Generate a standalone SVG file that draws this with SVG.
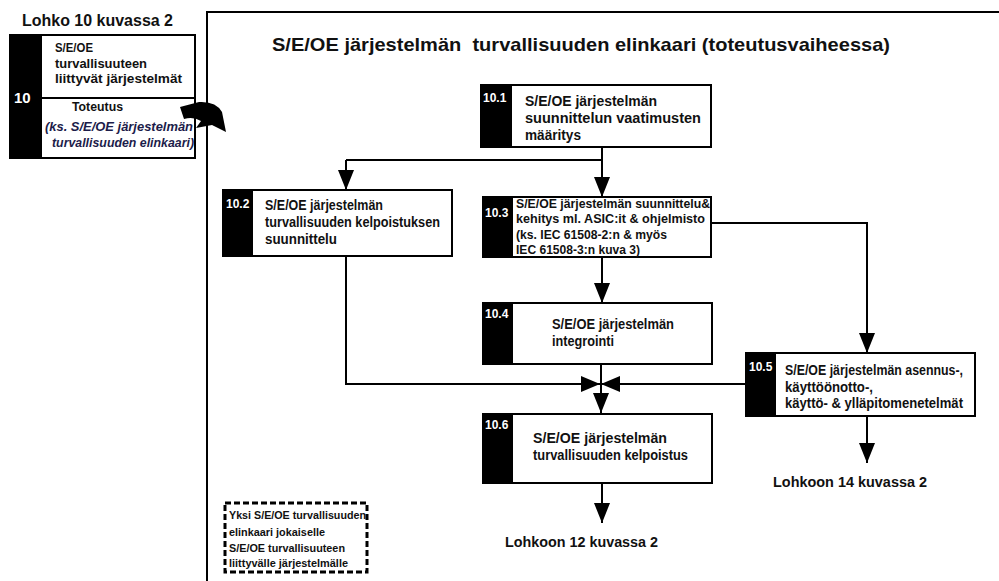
<svg xmlns="http://www.w3.org/2000/svg" width="999" height="581" viewBox="0 0 999 581">
<defs>
<style>
text{font-family:"Liberation Sans","DejaVu Sans",Arial,sans-serif;font-weight:bold;fill:#111;}
.t{font-size:14px;}
.s{font-size:12.5px;}
.n{font-size:12px;fill:#fff;}
.box{fill:#fff;stroke:#000;stroke-width:2;}
.strip{fill:#000;}
.ln{fill:none;stroke:#000;stroke-width:2;}
.it{font-style:italic;fill:#1c1c4a;font-size:12.5px;}
</style>
<marker id="ah" viewBox="0 0 20 16" refX="20" refY="8" markerWidth="20" markerHeight="16" markerUnits="userSpaceOnUse" orient="auto">
<path d="M0,0 L20,8 L0,16 Z" fill="#000"/>
</marker>
</defs>
<rect width="999" height="581" fill="#fff"/>

<!-- frame -->
<path class="ln" d="M207,581 L207,12 L999,12"/>

<text x="272" y="51" style="font-size:19px" xml:space="preserve" textLength="618" lengthAdjust="spacingAndGlyphs">S/E/OE järjestelmän  turvallisuuden elinkaari (toteutusvaiheessa)</text>

<!-- left block -->
<g id="lohko10">
<text x="22" y="26" style="font-size:16px" textLength="151" lengthAdjust="spacingAndGlyphs">Lohko 10 kuvassa 2</text>
<rect class="box" x="10" y="35" width="185" height="123"/>
<rect class="strip" x="10" y="35" width="32" height="123"/>
<line class="ln" x1="42" y1="98" x2="195" y2="98"/>
<text x="14" y="103" style="font-size:15px;fill:#fff">10</text>
<text class="s" x="55" y="52" textLength="38" lengthAdjust="spacingAndGlyphs">S/E/OE</text>
<text class="s" x="55" y="68" textLength="92" lengthAdjust="spacingAndGlyphs">turvallisuuteen</text>
<text class="s" x="55" y="83" textLength="127" lengthAdjust="spacingAndGlyphs">liittyvät järjestelmät</text>
<text class="s" x="72" y="111" textLength="51" lengthAdjust="spacingAndGlyphs">Toteutus</text>
<text class="it" x="45" y="131" textLength="148" lengthAdjust="spacingAndGlyphs">(ks. S/E/OE järjestelmän</text>
<text class="it" x="52" y="147" textLength="142" lengthAdjust="spacingAndGlyphs">turvallisuuden elinkaari)</text>
<path d="M180,107 L199,102 Q216,101 222,112 L226,132 L212,125 L196,128 L201,121 Q193,116 184,119 Z" fill="#000"/>
</g>

<!-- connectors -->
<g id="connectors">
<path class="ln" d="M602,147 L602,160"/>
<path class="ln" d="M346,160 L602,160"/>
<path class="ln" d="M346,160 L346,190" marker-end="url(#ah)"/>
<path class="ln" d="M602,160 L602,197" marker-end="url(#ah)"/>
<path class="ln" d="M602,257 L602,303" marker-end="url(#ah)"/>
<path class="ln" d="M711,223 L867,223 L867,353" marker-end="url(#ah)"/>
<path class="ln" d="M346,256 L346,384 L600,384"/>
<path class="ln" d="M746,384 L601,384"/>
<path d="M581,376 L600,384 L581,392 Z" fill="#000"/>
<path d="M620,376 L601,384 L620,392 Z" fill="#000"/>
<path class="ln" d="M601,364 L601,413" marker-end="url(#ah)"/>
<path class="ln" d="M867,416 L867,463" marker-end="url(#ah)"/>
<path class="ln" d="M602,483 L602,523" marker-end="url(#ah)"/>
</g>

<g id="n101">
<rect class="box" x="481" y="85" width="230" height="62"/>
<rect class="strip" x="481" y="85" width="31" height="62"/>
<text class="n" x="483" y="102">10.1</text>
<text class="t" x="525" y="106" textLength="132" lengthAdjust="spacingAndGlyphs">S/E/OE järjestelmän</text>
<text class="t" x="525" y="123" textLength="176" lengthAdjust="spacingAndGlyphs">suunnittelun vaatimusten</text>
<text class="t" x="525" y="140" textLength="56" lengthAdjust="spacingAndGlyphs">määritys</text>
</g>

<g id="n102">
<rect class="box" x="223" y="190" width="229" height="66"/>
<rect class="strip" x="223" y="190" width="30" height="66"/>
<text class="n" x="226" y="208">10.2</text>
<text class="t" x="265" y="210" textLength="118" lengthAdjust="spacingAndGlyphs">S/E/OE järjestelmän</text>
<text class="t" x="265" y="227" textLength="175" lengthAdjust="spacingAndGlyphs">turvallisuuden kelpoistuksen</text>
<text class="t" x="265" y="244" textLength="72" lengthAdjust="spacingAndGlyphs">suunnittelu</text>
</g>

<g id="n103">
<rect class="box" x="483" y="197" width="228" height="60"/>
<rect class="strip" x="483" y="197" width="30" height="60"/>
<text class="n" x="485" y="217">10.3</text>
<text class="s" x="516" y="208" textLength="194" lengthAdjust="spacingAndGlyphs">S/E/OE järjestelmän suunnittelu&amp;</text>
<text class="s" x="516" y="223" textLength="189" lengthAdjust="spacingAndGlyphs">kehitys ml. ASIC:it &amp; ohjelmisto</text>
<text class="s" x="516" y="239" textLength="151" lengthAdjust="spacingAndGlyphs">(ks. IEC 61508-2:n &amp; myös</text>
<text class="s" x="516" y="254" textLength="124" lengthAdjust="spacingAndGlyphs">IEC 61508-3:n kuva 3)</text>
</g>

<g id="n104">
<rect class="box" x="483" y="303" width="229" height="61"/>
<rect class="strip" x="483" y="303" width="30" height="61"/>
<text class="n" x="485" y="318">10.4</text>
<text class="t" x="552" y="329" textLength="122" lengthAdjust="spacingAndGlyphs">S/E/OE järjestelmän</text>
<text class="t" x="552" y="346" textLength="62" lengthAdjust="spacingAndGlyphs">integrointi</text>
</g>

<g id="n105">
<rect class="box" x="746" y="353" width="229" height="63"/>
<rect class="strip" x="746" y="353" width="30" height="63"/>
<text class="n" x="749" y="371">10.5</text>
<text class="t" x="785" y="375" textLength="178" lengthAdjust="spacingAndGlyphs">S/E/OE järjestelmän asennus-,</text>
<text class="t" x="785" y="392" textLength="88" lengthAdjust="spacingAndGlyphs">käyttöönotto-,</text>
<text class="t" x="785" y="408" textLength="178" lengthAdjust="spacingAndGlyphs">käyttö- &amp; ylläpitomenetelmät</text>
</g>

<g id="n106">
<rect class="box" x="483" y="414" width="229" height="69"/>
<rect class="strip" x="483" y="414" width="30" height="69"/>
<text class="n" x="485" y="429">10.6</text>
<text class="t" x="533" y="443" textLength="134" lengthAdjust="spacingAndGlyphs">S/E/OE järjestelmän</text>
<text class="t" x="533" y="460" textLength="155" lengthAdjust="spacingAndGlyphs">turvallisuuden kelpoistus</text>
</g>

<g id="out14">
<text x="773" y="487" style="font-size:14.5px" textLength="154" lengthAdjust="spacingAndGlyphs">Lohkoon 14 kuvassa 2</text>
</g>
<g id="out12">
<text x="505" y="547" style="font-size:14.5px" textLength="153" lengthAdjust="spacingAndGlyphs">Lohkoon 12 kuvassa 2</text>
</g>

<g id="note">
<rect x="225" y="503" width="142" height="69" fill="none" stroke="#000" stroke-width="3" stroke-dasharray="6,3"/>
<text x="229" y="519" style="font-size:11.5px" textLength="137" lengthAdjust="spacingAndGlyphs">Yksi S/E/OE turvallisuuden</text>
<text x="229" y="536" style="font-size:11.5px" textLength="96" lengthAdjust="spacingAndGlyphs">elinkaari jokaiselle</text>
<text x="229" y="552" style="font-size:11.5px" textLength="116" lengthAdjust="spacingAndGlyphs">S/E/OE turvallisuuteen</text>
<text x="229" y="567" style="font-size:11.5px" textLength="119" lengthAdjust="spacingAndGlyphs">liittyvälle järjestelmälle</text>
</g>
</svg>
